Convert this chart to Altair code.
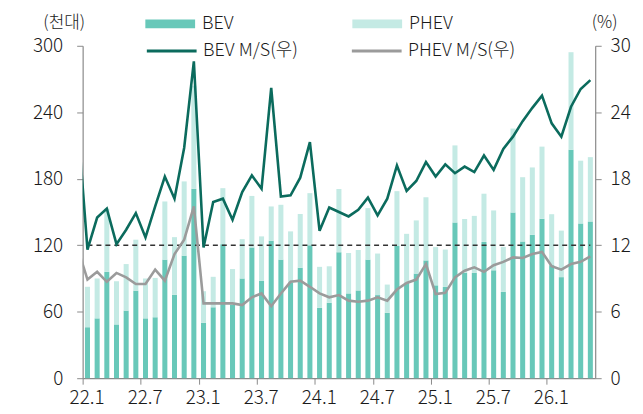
import altair as alt
import pandas as pd

# ---- data (thousand units / %) ----
tick_labels = ["22.1", "22.7", "23.1", "23.7", "24.1", "24.7", "25.1", "25.7", "26.1"]

bev = [46, 54, 96, 48.5, 61, 79, 54, 55, 107, 75.3, 110.6, 171,
       50, 64, 121, 66.5, 90, 118, 88, 124, 107, 86.5, 99.7, 120,
       63.5, 68, 113.7, 76.5, 79.2, 107, 75, 59, 119.3, 86.3, 94.4, 106.3,
       83.8, 82.4, 140.6, 95.2, 95, 123, 97.4, 77.9, 149.5, 123.4, 129.5, 144,
       102, 91.2, 206.2, 139.7, 141.5]
phev = [36.5, 36, 57, 39, 42, 46, 36, 35.5, 52.5, 52, 67, 93,
        28.5, 27.5, 50.5, 32, 35.5, 46.5, 40, 31, 49.5, 46, 48.5, 47,
        37, 33, 57, 36.5, 36.5, 46.5, 37.5, 25.5, 49.5, 44, 48, 57,
        34.5, 33.7, 69.5, 48.5, 51.5, 43.5, 54, 40.6, 75.8, 58, 60.7, 65,
        46, 42, 88, 56.6, 58]
# market share, first value = 21.12 (drawn clipped at the axis)
bev_ms = [23.0,
          11.6, 14.5, 15.3, 12.1, 13.4, 14.9, 12.7, 15.5, 18.2, 16.2, 20.8, 28.6,
          11.8, 15.9, 16.2, 14.3, 16.8, 18.3, 17.1, 26.2, 16.4, 16.5, 18.1, 21.3,
          13.3, 15.4, 15.0, 14.6, 15.2, 16.3, 14.7, 16.2, 19.2, 16.9, 17.8, 19.5,
          18.2, 19.3, 18.5, 19.1, 18.6, 20.1, 18.8, 20.7, 21.8, 23.2, 24.4, 25.5,
          23.0, 21.8, 24.5, 26.1, 26.9]
phev_ms = [11.7,
           8.9, 9.6, 8.7, 9.5, 9.1, 8.5, 8.5, 9.8, 8.8, 11.2, 12.5, 15.5,
           6.75, 6.75, 6.75, 6.75, 6.6, 7.3, 7.65, 6.5, 7.65, 8.7, 8.8, 8.25,
           7.65, 7.3, 7.5, 7.0, 6.9, 7.0, 7.3, 7.0, 8.0, 8.6, 8.9, 10.3,
           7.6, 7.7, 9.1, 9.7, 10.0, 9.6, 10.2, 10.5, 10.9, 10.85, 11.2, 11.4,
           10.1, 9.8, 10.3, 10.5, 11.0]
ref_level = [120]

FONT = "Noto Sans CJK KR"
FW = 300
C_BEV, C_PHEV = "#68C8B9", "#C4EAE4"
C_BEV_MS, C_PHEV_MS = "#0B6B5D", "#9B9B9B"
AX = "#8A8A8A"
TXT = "#1a1a1a"

rows = []
for i in range(len(bev)):
    rows.append({"i": i, "type": "BEV", "lo": 0, "hi": bev[i]})
    rows.append({"i": i, "type": "PHEV", "lo": bev[i], "hi": bev[i] + phev[i]})
bar_df = pd.DataFrame(rows)

lrows = []
for k in range(len(bev_ms)):
    lrows.append({"i": k - 1, "series": "BEV M/S(우)", "v": bev_ms[k]})
    lrows.append({"i": k - 1, "series": "PHEV M/S(우)", "v": phev_ms[k]})
line_df = pd.DataFrame(lrows)

ref_df = pd.DataFrame({"a": [0], "b": [len(bev) - 1], "y": ref_level})

n = len(bev)
xscale = alt.Scale(domain=[0, n], nice=False, zero=False)
lab_arr = "[" + ",".join(f"'{t}'" for t in tick_labels) + "]"
xaxis = alt.Axis(values=list(range(0, 49, 6)), labelExpr=f"{lab_arr}[datum.value/6]",
                 title=None, grid=False, domainColor=AX, tickColor=AX, tickSize=6,
                 labelFont=FONT, labelFontSize=19, labelFontWeight=FW, labelColor=TXT,
                 labelPadding=4, labelFlush=False, labelOffset=4, domainWidth=1.2)

bars = alt.Chart(bar_df).transform_calculate(
    x0="datum.i + 0.24", x1="datum.i + 0.76"
).mark_bar().encode(
    x=alt.X("x0:Q", scale=xscale, axis=xaxis),
    x2="x1:Q",
    y=alt.Y("hi:Q", scale=alt.Scale(domain=[0, 300], nice=False),
            axis=alt.Axis(values=list(range(0, 301, 60)), title="(천대)", titleAngle=0,
                          titleX=-19, titleY=-23, titleAlign="center", titleBaseline="middle",
                          titleFont=FONT, titleFontSize=17, titleFontWeight=FW, titleColor=TXT,
                          labelFont=FONT, labelFontSize=19, labelFontWeight=FW, labelColor=TXT,
                          labelPadding=14, tickSize=6, grid=False, domainColor=AX, tickColor=AX,
                          domainWidth=1.2)),
    y2="lo:Q",
    fill=alt.Fill("type:N", scale=alt.Scale(domain=["BEV", "PHEV"], range=[C_BEV, C_PHEV]),
                  legend=alt.Legend(orient="none", legendX=63, legendY=-47, direction="horizontal",
                                    title=None, symbolType="M-1,-0.18L1,-0.18L1,0.18L-1,0.18Z",
                                    symbolSize=2500, symbolStrokeWidth=0, symbolOpacity=1,
                                    labelFont=FONT, labelFontSize=18, labelFontWeight=FW,
                                    labelColor=TXT, labelOffset=7, columnPadding=119, padding=0)),
)

rule = alt.Chart(ref_df).transform_calculate(
    xa="datum.a + 0.5", xb="datum.b + 0.5"
).mark_rule(color="#333333", strokeDash=[5, 4], strokeWidth=1.6).encode(
    x=alt.X("xa:Q", scale=xscale), x2="xb:Q", y="y:Q"
)

lines = alt.Chart(line_df).transform_calculate(
    xc="datum.i + 0.5"
).mark_line(clip=True, strokeWidth=2.6).encode(
    x=alt.X("xc:Q", scale=xscale),
    y=alt.Y("v:Q", scale=alt.Scale(domain=[0, 30], nice=False),
            axis=alt.Axis(orient="right", values=list(range(0, 31, 6)), title="(%)", titleAngle=0,
                          titleX=9, titleY=-23, titleAlign="center", titleBaseline="middle",
                          titleFont=FONT, titleFontSize=17, titleFontWeight=FW, titleColor=TXT,
                          labelFont=FONT, labelFontSize=19, labelFontWeight=FW, labelColor=TXT,
                          labelPadding=9, tickSize=6, grid=False, domainColor=AX, tickColor=AX,
                          domainWidth=1.2)),
    stroke=alt.Stroke("series:N",
                      scale=alt.Scale(domain=["BEV M/S(우)", "PHEV M/S(우)"], range=[C_BEV_MS, C_PHEV_MS]),
                      legend=alt.Legend(orient="none", legendX=63, legendY=-21.5, direction="horizontal",
                                        title=None, symbolType="stroke", symbolSize=2500,
                                        symbolStrokeWidth=3, labelFont=FONT, labelFontSize=18,
                                        labelFontWeight=FW, labelColor=TXT, labelOffset=5,
                                        columnPadding=47, padding=0)),
    order="i:Q",
)

chart = alt.layer(alt.layer(bars, rule), lines).resolve_scale(
    y="independent", fill="independent", stroke="independent"
).properties(
    width=515, height=334,
    padding={"left": 75, "top": 37, "right": 40, "bottom": 34},
    autosize=alt.AutoSizeParams(type="none"),
).configure_view(stroke=None)

chart.save("out.html", embed_options={"renderer": "svg", "actions": False})
